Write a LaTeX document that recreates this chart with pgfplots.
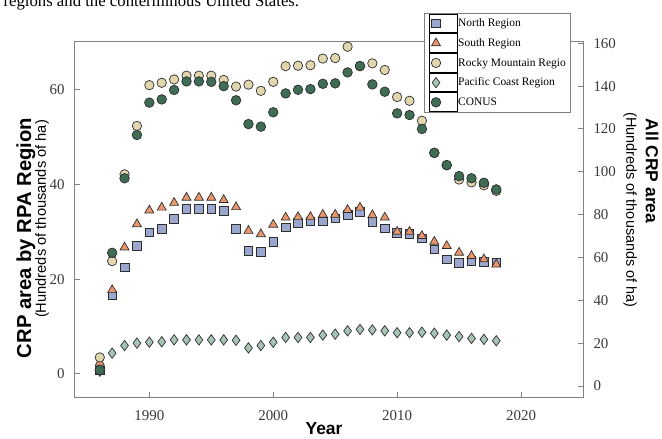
\documentclass[border=0pt]{standalone}
\usepackage{pgfplots}
\usepackage{pgfplotstable}
\pgfplotsset{compat=1.18}
\usepackage{fontspec}
\setmainfont{Liberation Serif}
\newfontfamily\arial{Liberation Sans}

\definecolor{axisgray}{HTML}{808080}
\definecolor{ticktext}{HTML}{3A3A3A}
\definecolor{markedge}{HTML}{2E2E2E}
\definecolor{northfill}{HTML}{9BA6CE}
\definecolor{southfill}{HTML}{E8966C}
\definecolor{rockyfill}{HTML}{E2D6AE}
\definecolor{pacificfill}{HTML}{A6C4B4}
\definecolor{conusfill}{HTML}{3E6C54}

% CRP area, hundreds of thousands of ha (regions on left axis, CONUS on right axis)
\pgfplotstableread{
year north south rocky pacific conus
1986 0.8  2.4  3.5  0.6 7.5
1987 16.6 17.7 23.8 4.4 62.2
1988 22.5 26.7 42.1 6.0 97.0
1989 27.0 31.6 52.3 6.5 117.2
1990 29.9 34.5 60.9 6.7 132.3
1991 30.6 35.1 61.4 6.8 133.8
1992 32.7 36.1 62.1 7.2 138.2
1993 34.8 37.2 62.9 7.2 142.2
1994 34.8 37.2 62.9 7.2 142.2
1995 34.8 37.2 62.9 7.2 142.0
1996 34.4 36.7 62.0 7.2 140.0
1997 30.6 35.2 60.6 7.1 133.4
1998 26.0 30.2 61.0 5.5 122.3
1999 25.7 29.5 59.7 6.0 121.1
2000 27.9 31.5 61.6 6.7 127.8
2001 30.9 33.0 64.9 7.7 136.6
2002 31.9 33.1 65.0 7.7 138.3
2003 32.2 33.1 65.1 7.7 138.6
2004 32.2 33.6 66.5 8.2 141.1
2005 32.8 33.6 66.6 8.4 141.3
2006 33.5 34.6 69.0 9.1 146.4
2007 34.2 35.1 64.9 9.4 149.4
2008 32.1 33.5 65.5 9.3 140.8
2009 30.7 33.0 64.1 9.1 137.4
2010 29.8 30.0 58.4 8.7 127.3
2011 29.6 30.0 57.6 8.7 126.5
2012 28.6 29.1 53.4 8.8 120.0
2013 26.3 27.9 46.6 8.6 108.9
2014 24.2 27.0 44.0 8.2 103.2
2015 23.4 25.6 41.0 7.9 98.0
2016 23.9 24.9 40.4 7.5 97.0
2017 23.7 24.2 39.8 7.3 94.9
2018 23.5 23.1 38.6 7.0 91.8
}\crpdata

\pgfplotsset{
  mk/.style={only marks, mark options={draw=markedge, line width=0.7bp, fill=#1}},
  northstyle/.style={mk=northfill, mark=square*, mark size=4.3bp},
  southstyle/.style={mk=southfill, mark=triangle*, mark size=5.2bp},
  rockystyle/.style={mk=rockyfill, mark=*, mark size=4.7bp},
  pacificstyle/.style={mk=pacificfill, mark=diamond*, mark size=5.2bp},
  conusstyle/.style={mk=conusfill, mark=*, mark size=4.8bp},
  frame/.style={
    scale only axis, width=508bp, height=355bp,
    at={(0bp,0bp)}, anchor=south west,
    xmin=1984, xmax=2025,
    axis line style={draw=axisgray, line width=1bp},
    tick style={draw=axisgray, line width=1bp},
    tick align=inside, major tick length=5bp,
    ticklabel style={font=\fontsize{15}{15}\selectfont, text=ticktext},
    /pgf/number format/assume math mode=true,
    /pgf/number format/1000 sep={},
  },
}

\begin{document}
\begin{tikzpicture}
\useasboundingbox (-75bp,-42bp) rectangle (587bp,397bp);

\begin{axis}[frame,
  ymin=-4.85, ymax=70,
  xtick={1990,2000,2010,2020}, ytick={0,20,40,60},
  xtick pos=left, ytick pos=left,
  yticklabel style={xshift=-7bp},
  xticklabel style={yshift=-10bp},
]
\addplot[northstyle] table[x=year, y=north] {\crpdata};
\addplot[southstyle] table[x=year, y=south] {\crpdata};
\addplot[rockystyle] table[x=year, y=rocky] {\crpdata};
\addplot[pacificstyle] table[x=year, y=pacific] {\crpdata};
\end{axis}

\begin{axis}[frame,
  ymin=-5.1, ymax=160.6,
  hide x axis, axis y line*=right,
  ytick={0,20,...,160},
  yticklabel style={xshift=7bp},
  legend image code/.code={
    \path (-6bp,-9.35bp) rectangle (21.7bp,9.35bp);
    \draw[#1] plot coordinates {(0bp,0bp)};
  },
  legend cell align=left,
  legend style={at={(0.687,1.0826)}, anchor=north west,
    draw=axisgray, fill=white, line width=1bp,
    inner xsep=5bp, inner ysep=0.5bp, row sep=0bp,
    nodes={inner sep=0pt},
    font=\fontsize{11.5}{12}\selectfont},
]
\addlegendimage{northstyle}
\addlegendentry{North Region}
\addlegendimage{southstyle}
\addlegendentry{South Region}
\addlegendimage{rockystyle}
\addlegendentry{Rocky Mountain Regio}
\addlegendimage{pacificstyle}
\addlegendentry{Pacific Coast Region}
\addplot[conusstyle] table[x=year, y=conus] {\crpdata};
\addlegendentry{CONUS}
\end{axis}

\node[anchor=base west, font=\fontsize{16.8}{17}\selectfont] at (-75bp,390bp)
  {regions and the conterminous United States.};

\node[rotate=90, font=\arial\bfseries\fontsize{20.3}{21}\selectfont] at (-49bp,159bp)
  {CRP area by RPA Region};
\node[rotate=90, font=\arial\fontsize{14.7}{15}\selectfont] at (-33bp,178bp)
  {(Hundreds of thousands of ha)};
\node[rotate=-90, font=\arial\fontsize{14.5}{15}\selectfont] at (555bp,187bp)
  {(Hundreds of thousands of ha)};
\node[rotate=-90, font=\arial\bfseries\fontsize{17.5}{18}\selectfont] at (577bp,226bp)
  {All CRP area};
\node[font=\arial\bfseries\fontsize{17.5}{18}\selectfont] at (249bp,-32bp) {Year};
\end{tikzpicture}
\end{document}
